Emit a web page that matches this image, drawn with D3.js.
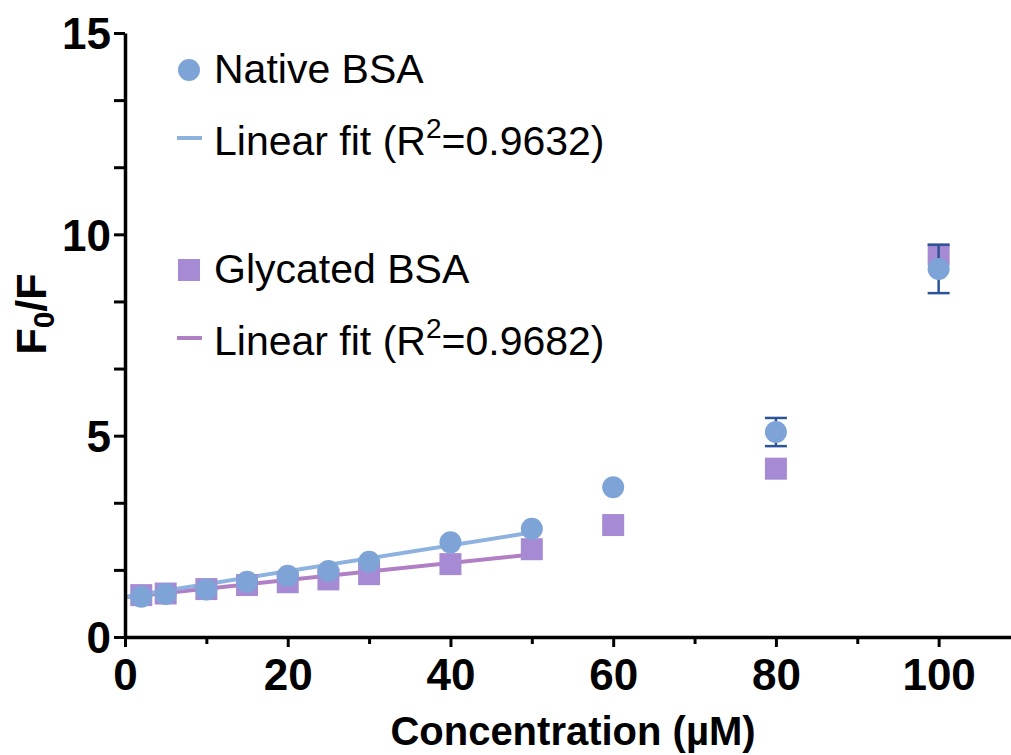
<!DOCTYPE html>
<html>
<head>
<meta charset="utf-8">
<script src="https://cdn.jsdelivr.net/npm/d3@7"></script>
<style>
  html, body { margin: 0; padding: 0; background: #fff; }
  svg { display: block; }
</style>
</head>
<body>
<svg id="chart" width="1011" height="755"></svg>
<script>
// Quenching data: F0/F versus protein concentration (µM)
const concentrations = [2, 5, 10, 15, 20, 25, 30, 40, 50, 60, 80, 100];
const nativeValues   = [1.00, 1.07, 1.18, 1.37, 1.52, 1.64, 1.87, 2.35, 2.69, 3.72, 5.09, 9.14];
const nativeErrors   = [0, 0, 0, 0, 0, 0, 0, 0, 0, 0, 0.35, 0.60];
const glycatedValues = [1.04, 1.08, 1.19, 1.29, 1.36, 1.43, 1.56, 1.81, 2.18, 2.78, 4.18, 9.50];

// Linear fits over 0–50 µM: [intercept, slope]
const nativeFit   = [0.995, 0.0320];
const glycatedFit = [0.990, 0.0212];
const fitRange    = [0, 50];

const xTicks = [0, 20, 40, 60, 80, 100];
const xMinorTicks = [10, 30, 50, 70, 90];
const yTicks = [0, 5, 10, 15];
const yMinorTicks = [5/3, 10/3, 20/3, 25/3, 35/3, 40/3];

const legendLabels = ["Native BSA", "Linear fit (R", "=0.9632)", "Glycated BSA", "=0.9682)"];

const colors = {
  native: "#7ea3d6",
  nativeLine: "#8db2df",
  glycated: "#a68bd4",
  glycatedLine: "#b07fc4",
  error: "#2d5498"
};

const svg = d3.select("#chart");
const x = d3.scaleLinear().domain([0, 110]).range([125, 1020]);
const y = d3.scaleLinear().domain([0, 15]).range([637, 33]);

const tickFont = "'Liberation Sans', Arial, sans-serif";

// Fit lines
const fitLine = fit => d3.line()
  .x(d => x(d))
  .y(d => y(fit[0] + fit[1] * d));

svg.append("path").datum(fitRange)
  .attr("d", fitLine(glycatedFit))
  .attr("fill", "none").attr("stroke", colors.glycatedLine).attr("stroke-width", 4);
svg.append("path").datum(fitRange)
  .attr("d", fitLine(nativeFit))
  .attr("fill", "none").attr("stroke", colors.nativeLine).attr("stroke-width", 4);

// Glycated BSA squares
const sq = 22;
svg.append("g").selectAll("rect")
  .data(concentrations.map((c, i) => ({c, v: glycatedValues[i]})))
  .join("rect")
  .attr("x", d => x(d.c) - sq / 2)
  .attr("y", d => y(d.v) - sq / 2)
  .attr("width", sq).attr("height", sq)
  .attr("fill", colors.glycated);

// Native BSA error bars
const errData = concentrations.map((c, i) => ({c, v: nativeValues[i], e: nativeErrors[i]})).filter(d => d.e > 0);
const eg = svg.append("g").attr("stroke", colors.error).attr("stroke-width", 2.5);
eg.selectAll("line.v").data(errData).join("line").attr("class", "v")
  .attr("x1", d => x(d.c)).attr("x2", d => x(d.c))
  .attr("y1", d => y(d.v + d.e)).attr("y2", d => y(d.v - d.e));
eg.selectAll("line.t").data(errData).join("line").attr("class", "t")
  .attr("x1", d => x(d.c) - 11).attr("x2", d => x(d.c) + 11)
  .attr("y1", d => y(d.v + d.e)).attr("y2", d => y(d.v + d.e));
eg.selectAll("line.b").data(errData).join("line").attr("class", "b")
  .attr("x1", d => x(d.c) - 11).attr("x2", d => x(d.c) + 11)
  .attr("y1", d => y(d.v - d.e)).attr("y2", d => y(d.v - d.e));

// Native BSA circles
svg.append("g").selectAll("circle")
  .data(concentrations.map((c, i) => ({c, v: nativeValues[i]})))
  .join("circle")
  .attr("cx", d => x(d.c))
  .attr("cy", d => y(d.v))
  .attr("r", 11)
  .attr("fill", colors.native);

// Axes
const xAxis = svg.append("g").attr("transform", "translate(0,637)");
xAxis.call(d3.axisBottom(x).tickValues(xTicks).tickSize(10).tickSizeOuter(0).tickFormat(d3.format("d")));
xAxis.append("g").call(d3.axisBottom(x).tickValues(xMinorTicks).tickSize(7).tickSizeOuter(0).tickFormat(""))
  .select(".domain").remove();
xAxis.selectAll("line").attr("stroke", "#000").attr("stroke-width", 3);
xAxis.select(".domain").attr("stroke", "#000").attr("stroke-width", 3.5);
xAxis.selectAll("text")
  .attr("font-family", tickFont).attr("font-weight", "bold").attr("font-size", 44)
  .attr("fill", "#000").attr("dy", "0.9em");

const yAxis = svg.append("g").attr("transform", "translate(125,0)");
yAxis.call(d3.axisLeft(y).tickValues(yTicks).tickSize(11).tickSizeOuter(0).tickFormat(d3.format("d")));
yAxis.append("g").call(d3.axisLeft(y).tickValues(yMinorTicks).tickSize(11).tickSizeOuter(0).tickFormat(""))
  .select(".domain").remove();
yAxis.selectAll("line").attr("stroke", "#000").attr("stroke-width", 3);
yAxis.select(".domain").attr("stroke", "#000").attr("stroke-width", 3.5);
yAxis.selectAll("text")
  .attr("font-family", tickFont).attr("font-weight", "bold").attr("font-size", 44)
  .attr("fill", "#000").attr("x", -14).attr("dy", "0.36em");

// Axis titles
svg.append("text")
  .attr("x", 573).attr("y", 745)
  .attr("text-anchor", "middle")
  .attr("font-family", tickFont).attr("font-weight", "bold").attr("font-size", 40)
  .text("Concentration (µM)");

const yt = svg.append("text")
  .attr("transform", "translate(46,314) rotate(-90)")
  .attr("text-anchor", "middle")
  .attr("font-family", tickFont).attr("font-weight", "bold").attr("font-size", 43);
yt.append("tspan").text("F");
yt.append("tspan").attr("font-size", 30).attr("dy", 8).text("0");
yt.append("tspan").attr("dy", -8).text("/F");

// Legend
const lg = svg.append("g").attr("font-family", tickFont).attr("font-size", 41).attr("fill", "#000");
lg.append("circle").attr("cx", 189).attr("cy", 70).attr("r", 11).attr("fill", colors.native);
lg.append("text").attr("x", 214).attr("y", 83).text(legendLabels[0]);

lg.append("line").attr("x1", 177).attr("x2", 202).attr("y1", 138).attr("y2", 138)
  .attr("stroke", colors.nativeLine).attr("stroke-width", 4);
const t1 = lg.append("text").attr("x", 214).attr("y", 155);
t1.append("tspan").text(legendLabels[1]);
t1.append("tspan").attr("font-size", 28).attr("dy", -17).text("2");
t1.append("tspan").attr("dy", 17).text(legendLabels[2]);

lg.append("rect").attr("x", 178).attr("y", 259).attr("width", 22).attr("height", 22).attr("fill", colors.glycated);
lg.append("text").attr("x", 214).attr("y", 283).text(legendLabels[3]);

lg.append("line").attr("x1", 177).attr("x2", 202).attr("y1", 338).attr("y2", 338)
  .attr("stroke", colors.glycatedLine).attr("stroke-width", 4);
const t2 = lg.append("text").attr("x", 214).attr("y", 355);
t2.append("tspan").text(legendLabels[1]);
t2.append("tspan").attr("font-size", 28).attr("dy", -17).text("2");
t2.append("tspan").attr("dy", 17).text(legendLabels[4]);
</script>
</body>
</html>
